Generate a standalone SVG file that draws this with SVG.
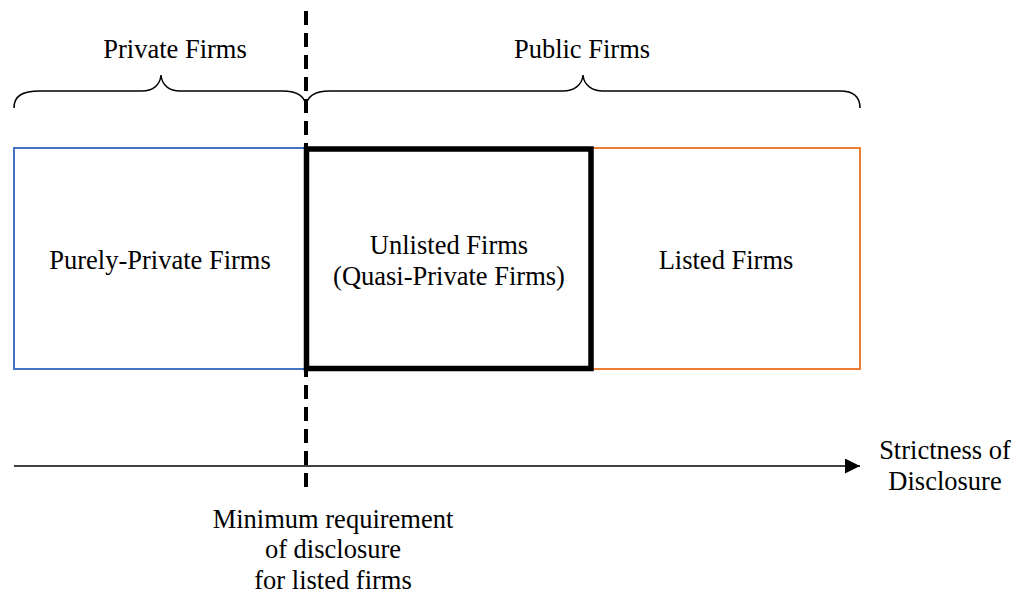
<svg xmlns="http://www.w3.org/2000/svg" width="1021" height="595" viewBox="0 0 1021 595">
<defs>
<style>
text{font-family:'Liberation Serif','DejaVu Serif',serif;font-size:26.5px;fill:#000;text-anchor:middle}
.brace{fill:none;stroke:#000;stroke-width:1.5}
</style>
<marker id="arr" markerWidth="16" markerHeight="16" refX="15" refY="7.5" orient="auto" markerUnits="userSpaceOnUse">
<path d="M0,0 L15,7.5 L0,15 Z" fill="#000"/>
</marker>
</defs>
<rect width="1021" height="595" fill="#fff"/>
<g id="private-label"><text x="175" y="58" font-family="Liberation Serif, serif">Private Firms</text></g>
<g id="public-label"><text x="582" y="58" font-family="Liberation Serif, serif">Public Firms</text></g>
<g id="braces">
<path class="brace" d="M14,108 C14,96 22,91 40,91 L142,91 C152,91 160,86 161,75 C162,86 170,91 180,91 L282,91 C298,91 306,96 306,108"/>
<path class="brace" d="M306,108 C306,96 314,91 330,91 L563,91 C573,91 582,86 583,75 C584,86 593,91 603,91 L840,91 C853,91 860,96 860,108"/>
</g>
<g id="purely-private">
<rect x="14" y="148" width="292" height="221" fill="none" stroke="#4472c4" stroke-width="2"/>
<text x="160" y="269" font-family="Liberation Serif, serif">Purely-Private Firms</text>
</g>
<g id="listed">
<rect x="591" y="148" width="269" height="221" fill="none" stroke="#ed7d31" stroke-width="2"/>
<text x="726" y="269" font-family="Liberation Serif, serif">Listed Firms</text>
</g>
<g id="unlisted">
<rect x="306.5" y="149" width="284.5" height="219.5" fill="none" stroke="#000" stroke-width="5.5"/>
<text x="449" y="254" font-family="Liberation Serif, serif">Unlisted Firms</text>
<text x="449" y="285" font-family="Liberation Serif, serif">(Quasi-Private Firms)</text>
</g>
<g id="connectors">
<line x1="14" y1="466" x2="860" y2="466" stroke="#000" stroke-width="1.5" marker-end="url(#arr)"/>
<line x1="306" y1="11" x2="306" y2="493" stroke="#000" stroke-width="4" stroke-dasharray="14,8"/>
</g>
<g id="axis-label">
<text x="945" y="459" font-family="Liberation Serif, serif">Strictness of</text>
<text x="945" y="490" font-family="Liberation Serif, serif">Disclosure</text>
</g>
<g id="min-label">
<text x="333" y="528" font-family="Liberation Serif, serif">Minimum requirement</text>
<text x="333" y="558" font-family="Liberation Serif, serif">of disclosure</text>
<text x="333" y="589" font-family="Liberation Serif, serif">for listed firms</text>
</g>
</svg>
